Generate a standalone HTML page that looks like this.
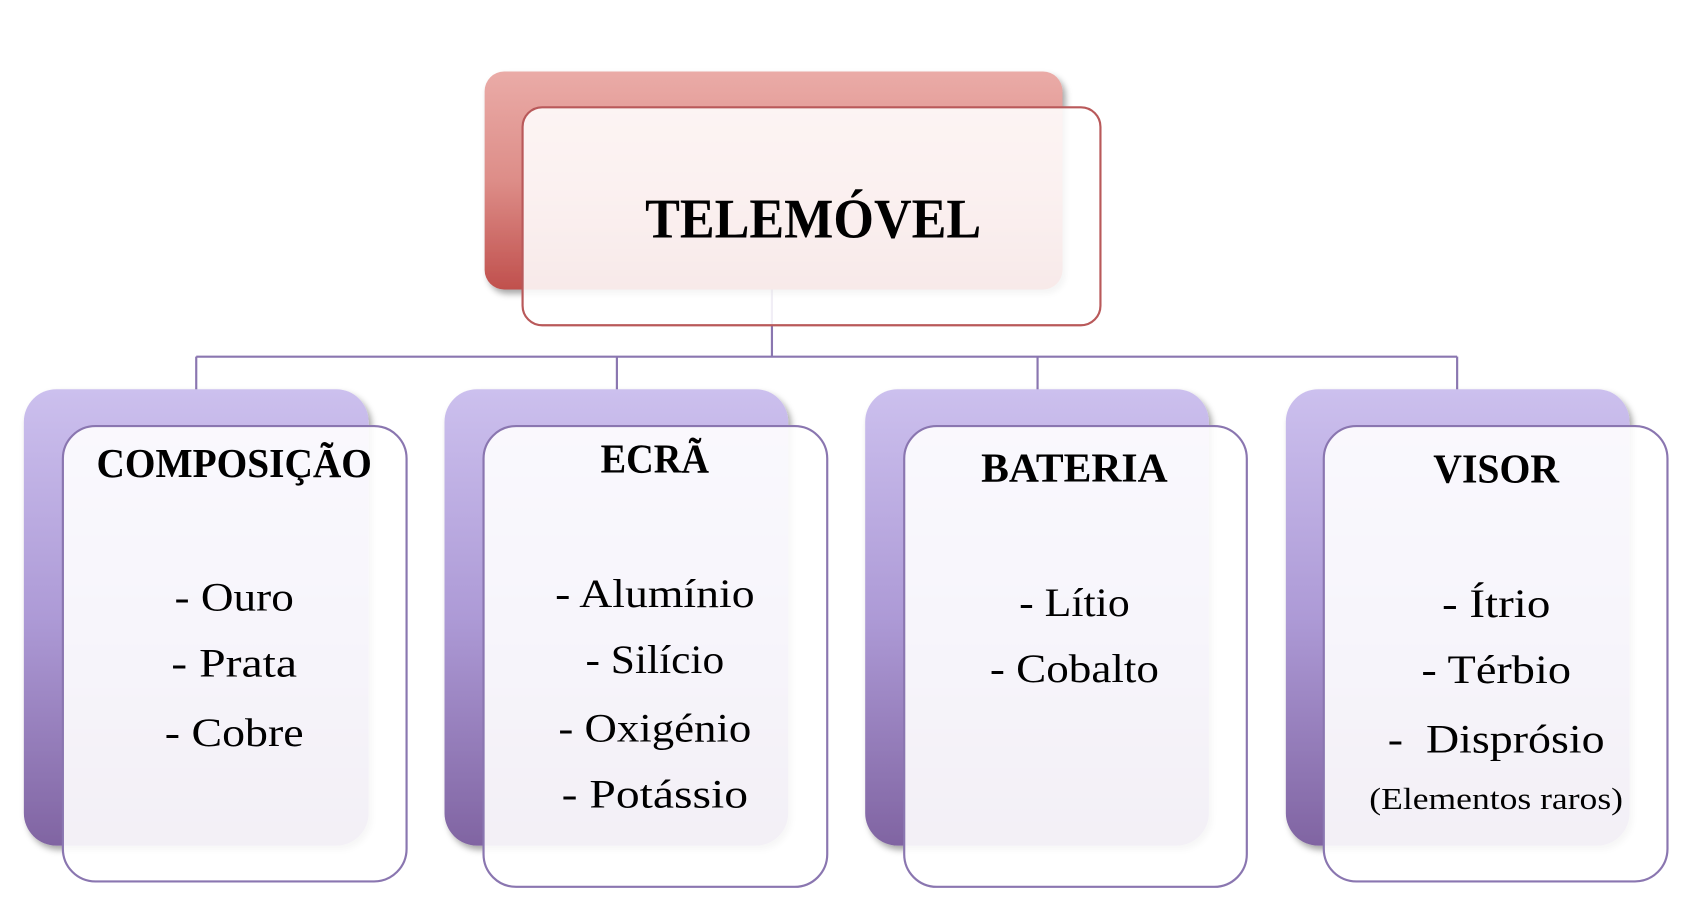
<!DOCTYPE html>
<html><head><meta charset="utf-8"><style>
html,body{margin:0;padding:0;background:#fff;}
svg{display:block;}
text{font-family:"Liberation Serif",serif;fill:#000;}
</style></head><body>
<svg width="1700" height="902" viewBox="0 0 1568 832" preserveAspectRatio="none" xmlns="http://www.w3.org/2000/svg">
<defs>
<linearGradient id="rg" x1="0" y1="0" x2="0" y2="1"><stop offset="0" stop-color="#eaaba7"/><stop offset="0.5" stop-color="#dd8d88"/><stop offset="1" stop-color="#c0504d"/></linearGradient>
<linearGradient id="pg" x1="0" y1="0" x2="0" y2="1"><stop offset="0" stop-color="#ccc0ee"/><stop offset="0.5" stop-color="#ad9ad6"/><stop offset="1" stop-color="#8064a2"/></linearGradient>
<filter id="sh" x="-10%" y="-10%" width="130%" height="130%"><feDropShadow dx="3" dy="4" stdDeviation="3" flood-color="#000" flood-opacity="0.35"/></filter>
</defs>
<g stroke="#8a76b0" stroke-width="2" fill="none">
<path d="M712 267 V329 M181 329 H1344 M181 329 V360 M569 329 V360 M957 329 V360 M1344 329 V360"/>
</g>
<rect x="447" y="66" width="533" height="201" rx="18" fill="url(#rg)" filter="url(#sh)"/>
<rect x="482" y="99" width="533" height="201" rx="18" fill="#fff" fill-opacity="0.88" stroke="#b9595a" stroke-width="2"/>
<text x="750" y="219" font-size="52" font-weight="bold" text-anchor="middle" textLength="310" lengthAdjust="spacingAndGlyphs">TELEMÓVEL</text>
<g>
<rect x="22" y="359" width="318" height="421" rx="30" fill="url(#pg)" filter="url(#sh)"/>
<rect x="58" y="393" width="317" height="420" rx="30" fill="#fff" fill-opacity="0.9" stroke="#8a76b0" stroke-width="2"/>
<rect x="410" y="359" width="317" height="421" rx="30" fill="url(#pg)" filter="url(#sh)"/>
<rect x="446" y="393" width="317" height="425" rx="30" fill="#fff" fill-opacity="0.9" stroke="#8a76b0" stroke-width="2"/>
<rect x="798" y="359" width="317" height="421" rx="30" fill="url(#pg)" filter="url(#sh)"/>
<rect x="834" y="393" width="316" height="425" rx="30" fill="#fff" fill-opacity="0.9" stroke="#8a76b0" stroke-width="2"/>
<rect x="1186" y="359" width="317" height="421" rx="30" fill="url(#pg)" filter="url(#sh)"/>
<rect x="1221" y="393" width="317" height="420" rx="30" fill="#fff" fill-opacity="0.9" stroke="#8a76b0" stroke-width="2"/>
</g>
<g font-size="38" font-weight="bold" text-anchor="middle">
<text x="216" y="440" textLength="254" lengthAdjust="spacingAndGlyphs">COMPOSIÇÃO</text>
<text x="604" y="436" textLength="100" lengthAdjust="spacingAndGlyphs">ECRÃ</text>
<text x="991" y="444" textLength="172" lengthAdjust="spacingAndGlyphs">BATERIA</text>
<text x="1380" y="445" textLength="116" lengthAdjust="spacingAndGlyphs">VISOR</text>
</g>
<g font-size="37" text-anchor="middle">
<text x="216" y="563" textLength="110" lengthAdjust="spacingAndGlyphs">- Ouro</text>
<text x="216" y="624" textLength="116" lengthAdjust="spacingAndGlyphs">- Prata</text>
<text x="216" y="688" textLength="128" lengthAdjust="spacingAndGlyphs">- Cobre</text>
<text x="604" y="560" textLength="184" lengthAdjust="spacingAndGlyphs">- Alumínio</text>
<text x="604" y="621" textLength="128" lengthAdjust="spacingAndGlyphs">- Silício</text>
<text x="604" y="684" textLength="178" lengthAdjust="spacingAndGlyphs">- Oxigénio</text>
<text x="604" y="745" textLength="172" lengthAdjust="spacingAndGlyphs">- Potássio</text>
<text x="991" y="568" textLength="102" lengthAdjust="spacingAndGlyphs">- Lítio</text>
<text x="991" y="629" textLength="156" lengthAdjust="spacingAndGlyphs">- Cobalto</text>
<text x="1380" y="569" textLength="100" lengthAdjust="spacingAndGlyphs">- Ítrio</text>
<text x="1380" y="630" textLength="138" lengthAdjust="spacingAndGlyphs">- Térbio</text>
<text x="1380" y="694" textLength="200" lengthAdjust="spacingAndGlyphs" xml:space="preserve">-  Disprósio</text>
<text x="1380" y="746" font-size="28" textLength="234" lengthAdjust="spacingAndGlyphs">(Elementos raros)</text>
</g>
</svg>
</body></html>
